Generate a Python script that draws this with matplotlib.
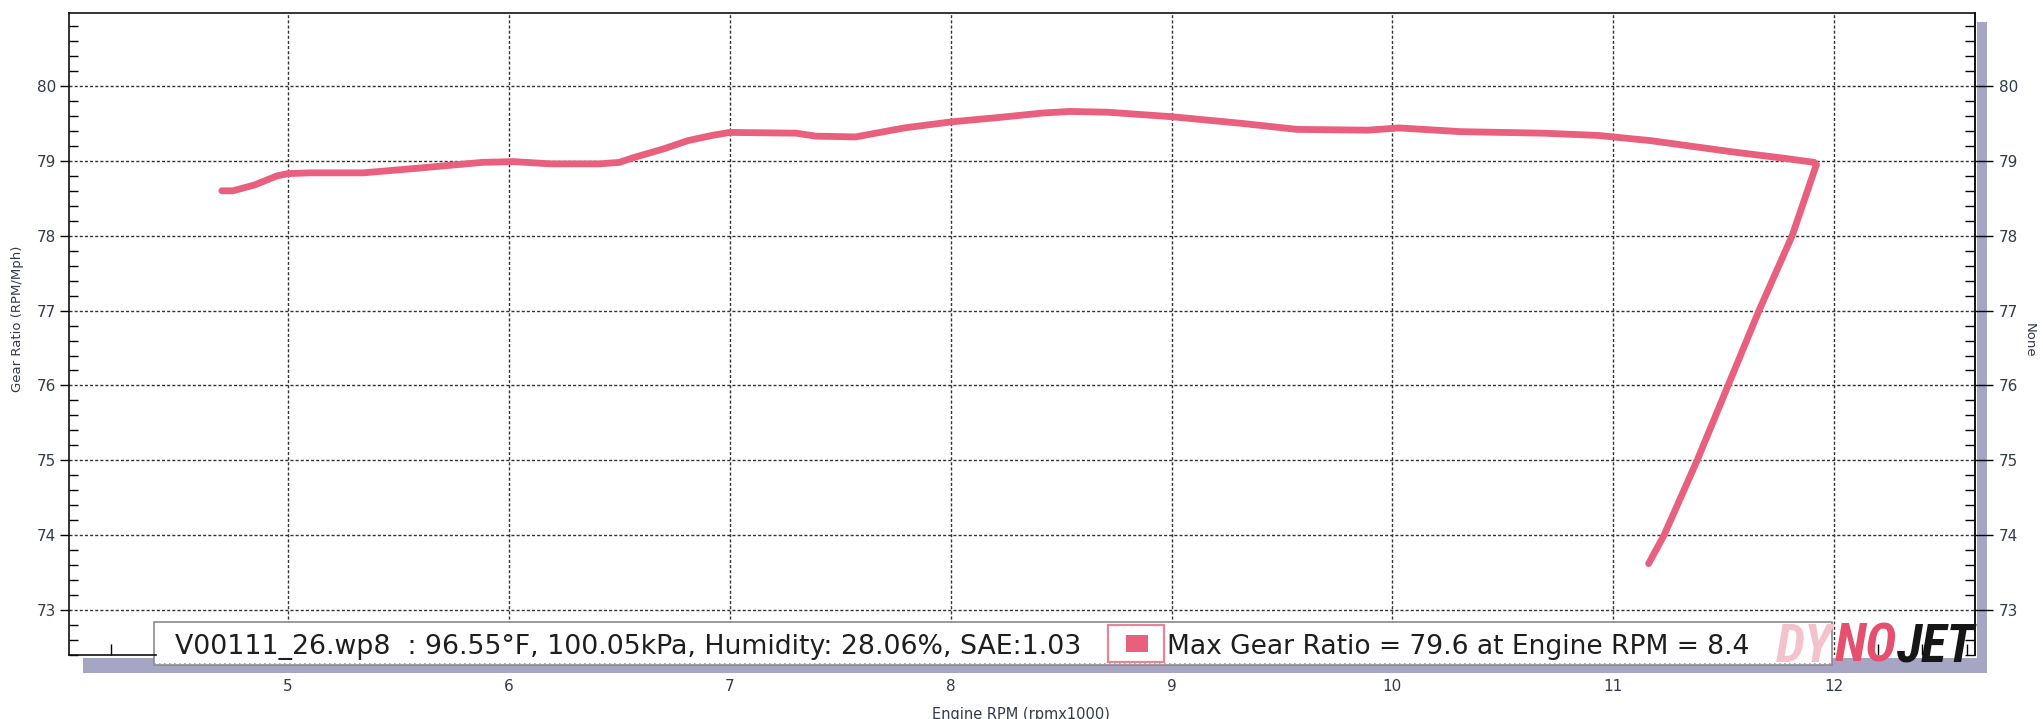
import matplotlib
matplotlib.use('Agg')
import matplotlib.pyplot as plt
from matplotlib import font_manager
from matplotlib.patches import Rectangle
from matplotlib.lines import Line2D
from matplotlib.ticker import MultipleLocator

# ---------------- data ----------------
rpm = [4.70, 4.75, 4.85, 4.95, 5.00, 5.10, 5.34, 5.58, 5.88, 6.02, 6.19, 6.41, 6.50,
       6.56, 6.70, 6.81, 6.92, 7.00, 7.30, 7.39, 7.57, 7.79, 8.00, 8.22, 8.42, 8.54,
       8.71, 9.00, 9.32, 9.57, 9.89, 10.03, 10.31, 10.68, 10.93, 11.17, 11.54, 11.76,
       11.91, 11.92, 11.81, 11.66, 11.52, 11.38, 11.23, 11.16]
gear = [78.60, 78.60, 78.68, 78.80, 78.83, 78.84, 78.84, 78.90, 78.98, 78.99, 78.96,
        78.96, 78.98, 79.04, 79.16, 79.27, 79.34, 79.38, 79.37, 79.33, 79.32, 79.44,
        79.52, 79.58, 79.64, 79.66, 79.65, 79.59, 79.50, 79.42, 79.41, 79.44, 79.39,
        79.37, 79.34, 79.27, 79.12, 79.04, 78.98, 78.95, 78.00, 77.00, 76.00, 75.00,
        74.00, 73.62]

x_label = "Engine RPM (rpmx1000)"
y_label = "Gear Ratio (RPM/Mph)"
y2_label = "None"
run_info = "V00111_26.wp8  : 96.55°F, 100.05kPa, Humidity: 28.06%, SAE:1.03"
max_info = "Max Gear Ratio = 79.6 at Engine RPM = 8.4"
logo_parts = ["DY", "NO", "JET"]

# ---------------- style ----------------
LINE = '#E8607E'
TXT = '#333a48'
SHADOW = '#A6A6C4'

W, H = 2043, 719
fig = plt.figure(figsize=(W / 100, H / 100), dpi=100)
fig.patch.set_facecolor('white')


def fx(px):
    return px / W


def fy(py):
    return 1 - py / H


names = {f.name for f in font_manager.fontManager.ttflist}
COND = next((n for n in ['Liberation Sans Narrow', 'Roboto Condensed',
                         'Open Sans Condensed', 'DejaVu Sans'] if n in names), 'DejaVu Sans')

ax = fig.add_axes([fx(69), fy(655), fx(1975) - fx(69), fy(13) - fy(655)])
ax.plot(rpm, gear, color=LINE, lw=4.9, solid_capstyle='round',
        solid_joinstyle='round', zorder=3)
ax.set_xlim(4.008, 12.638)
ax.set_ylim(72.40, 80.975)

ax.xaxis.set_major_locator(MultipleLocator(1))
ax.xaxis.set_minor_locator(MultipleLocator(0.2))
ax.yaxis.set_major_locator(MultipleLocator(1))
ax.yaxis.set_minor_locator(MultipleLocator(0.2))
ax.grid(True, which='major', color='#333333', ls=(0, (2.2, 1.5)), lw=1.0)

ax.tick_params(axis='y', which='major', direction='out', length=6.5, width=1,
               left=True, right=False, labelsize=11, labelcolor=TXT, pad=3)
ax.tick_params(axis='y', which='minor', direction='in', length=6.5, width=1,
               left=True, right=False)
ax.tick_params(axis='x', which='major', length=0, labelsize=11, labelcolor=TXT, pad=17,
               top=False)
ax.tick_params(axis='x', which='minor', direction='in', length=8, width=1,
               bottom=True, top=False)

for s in ['left', 'top', 'right', 'bottom']:
    ax.spines[s].set_color('#111111')
    ax.spines[s].set_linewidth(1.2)
ax.spines['bottom'].set_bounds(4.008, 4.40)

ax2 = ax.twinx()
ax2.set_ylim(ax.get_ylim())
ax2.yaxis.set_major_locator(MultipleLocator(1))
ax2.yaxis.set_minor_locator(MultipleLocator(0.2))
ax2.tick_params(axis='y', which='major', direction='out', length=13, width=1,
                labelsize=11, labelcolor=TXT, pad=4)
ax2.tick_params(axis='y', which='minor', direction='in', length=7, width=1)
for s in ['left', 'top', 'bottom']:
    ax2.spines[s].set_visible(False)
ax2.spines['right'].set_color('#111111')
ax2.spines['right'].set_linewidth(1.2)

# axis labels
fig.text(fx(1021), fy(714), x_label, ha='center', va='center', fontsize=10.5, color=TXT)
fig.text(fx(18), fy(319), y_label, ha='center', va='center', rotation=90,
         fontsize=9.5, color=TXT)
fig.text(fx(2029), fy(340), y2_label, ha='center', va='center', rotation=270,
         fontsize=9.5, color=TXT)

# shadow bands
fig.add_artist(Rectangle((fx(83), fy(673)), fx(1987) - fx(83), fy(658) - fy(673),
                         transform=fig.transFigure, fc=SHADOW, ec='none', zorder=-1))
fig.add_artist(Rectangle((fx(1977), fy(673)), fx(1987) - fx(1977), fy(22) - fy(673),
                         transform=fig.transFigure, fc=SHADOW, ec='none', zorder=-1))

# info box
box = Rectangle((fx(154), fy(665)), fx(1832) - fx(154), fy(622) - fy(665),
                transform=fig.transFigure, fc='white', ec='#8a8a8a', lw=1.2,
                clip_on=False, zorder=2)
ax.add_patch(box)
ax.add_line(Line2D([fx(154), fx(1832)], [fy(664), fy(664)], transform=fig.transFigure,
                   color='#9a9a9a', lw=1.2, ls=(0, (1, 2)), clip_on=False, zorder=2.1))

mk_out = Rectangle((fx(1108), fy(662)), fx(1164) - fx(1108), fy(625) - fy(662),
                   transform=fig.transFigure, fc='white', ec='#E8849A', lw=1.6,
                   clip_on=False, zorder=4)
ax.add_patch(mk_out)
mk_in = Rectangle((fx(1126), fy(652)), fx(1148) - fx(1126), fy(635) - fy(652),
                  transform=fig.transFigure, fc=LINE, ec='none',
                  clip_on=False, zorder=5)
ax.add_patch(mk_in)

renderer = fig.canvas.get_renderer()


def width_of(t):
    return t.get_window_extent(renderer).width


def fit(t, target):
    t.set_fontsize(t.get_fontsize() * target / width_of(t))


t1 = ax.text(fx(175), fy(647), run_info, transform=fig.transFigure, ha='left',
             va='center', fontsize=16, color='#1e1e1e', family='DejaVu Sans',
             clip_on=False, zorder=6)
fit(t1, 907)
t2 = ax.text(fx(1167), fy(647), max_info, transform=fig.transFigure, ha='left',
             va='center', fontsize=16, color='#1e1e1e', family='DejaVu Sans',
             clip_on=False, zorder=6)
fit(t2, 583)

# logo: one common size, "NO"+"JET" fitted into 1835..1975
lp = dict(family=COND, fontweight='bold', fontstyle='italic', fontstretch='condensed')
probe = fig.text(0, 0, logo_parts[1] + logo_parts[2], fontsize=22, **lp)
lsize = 22 * 140 / width_of(probe)
probe.remove()
t_no = fig.text(fx(1835), fy(647), logo_parts[1], ha='left', va='center',
                fontsize=lsize, color='#E4506D', zorder=7, **lp)
w_no = width_of(t_no)
fig.text(fx(1835) + w_no / W, fy(647), logo_parts[2], ha='left', va='center',
         fontsize=lsize, color='#161616', zorder=7, **lp)
fig.text(fx(1832), fy(647), logo_parts[0], ha='right', va='center',
         fontsize=lsize, color='#F4C2CD', zorder=7, **lp)

fig.savefig('out.png', dpi=100)
